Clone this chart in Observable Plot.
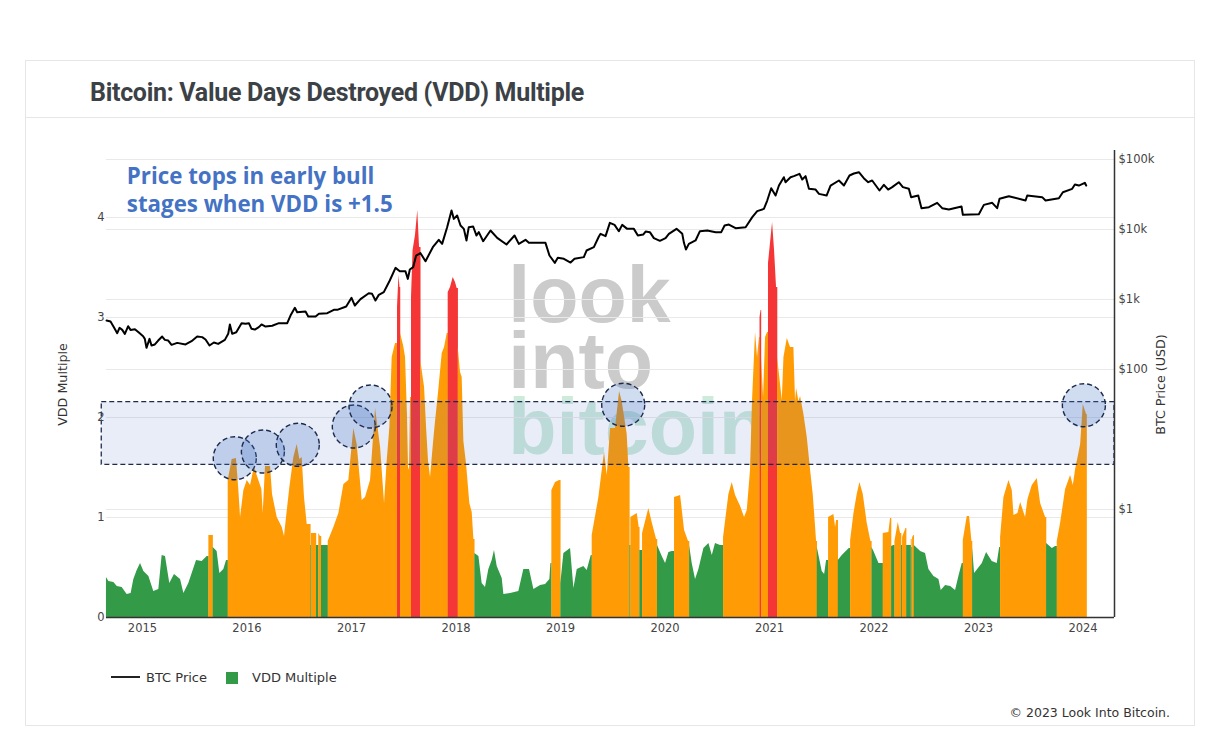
<!DOCTYPE html>
<html><head><meta charset="utf-8">
<script src="https://cdn.jsdelivr.net/npm/d3@7"></script>
<script src="https://cdn.jsdelivr.net/npm/@observablehq/plot@0.6"></script>
<style>
html,body{margin:0;padding:0;background:#fff;width:1220px;height:740px;overflow:hidden}
#card{position:absolute;left:25px;top:60px;width:1170px;height:666px;border:1px solid #e6e6e6;box-sizing:border-box}
#head{position:absolute;left:25px;top:117px;width:1170px;height:1px;background:#e6e6e6}
#title{position:absolute;left:90px;top:78px;font:700 25px Roboto,sans-serif;color:#3c4146;letter-spacing:-.3px;white-space:nowrap}
#chart{position:absolute;left:0;top:0}
#chart svg{background:transparent}
.lg{position:absolute;top:670px;font:13px "DejaVu Sans",sans-serif;color:#333;white-space:nowrap}
#copy{position:absolute;right:50px;top:705px;font:12.5px "DejaVu Sans",sans-serif;color:#333;white-space:nowrap}
</style></head><body>
<div id="card"></div><div id="head"></div>
<div id="title">Bitcoin: Value Days Destroyed (VDD) Multiple</div>
<div id="chart"></div>
<div style="position:absolute;left:111px;top:676px;width:29px;height:2px;background:#222"></div>
<div class="lg" style="left:146px">BTC Price</div>
<div style="position:absolute;left:226px;top:672px;width:12px;height:12px;background:#339a47"></div>
<div class="lg" style="left:252px">VDD Multiple</div>
<div id="copy">© 2023 Look Into Bitcoin.</div>
<script>
// VDD Multiple: [decimal year, value]
const vdd2014=[[2014.655,.40],[2014.678,.36],[2014.726,.35],[2014.758,.31],[2014.805,.30],[2014.853,.23],[2014.891,.24],[2014.917,.38],[2014.949,.47],[2014.981,.54]];
const vdd2015=[[2015.013,.46],[2015.061,.41],[2015.108,.26],[2015.156,.28],[2015.188,.62],[2015.220,.61],[2015.261,.34],[2015.306,.43],[2015.364,.38],[2015.396,.24],[2015.443,.34],[2015.517,.57],[2015.571,.56],[2015.619,.61],[2015.635,.82],[2015.676,.70],[2015.714,.66],[2015.740,.44],[2015.778,.48],[2015.804,.57],[2015.820,1.37],[2015.858,1.58],[2015.899,1.59],[2015.922,1.27],[2015.938,1.0],[2015.970,1.27]];
const vdd2016=[[2016.002,1.37],[2016.034,1.32],[2016.072,1.51],[2016.097,1.42],[2016.142,1.28],[2016.155,1.04],[2016.177,1.51],[2016.225,1.51],[2016.244,1.23],[2016.289,1.0],[2016.337,.90],[2016.359,.81],[2016.378,1.0],[2016.410,1.30],[2016.448,1.60],[2016.480,1.73],[2016.506,1.58],[2016.528,1.60],[2016.550,1.20],[2016.576,.93],[2016.611,.72],[2016.617,.84],[2016.656,.84],[2016.665,.72],[2016.687,.84],[2016.703,.81],[2016.713,.72],[2016.777,.76],[2016.831,.90],[2016.879,1.04],[2016.927,1.33],[2016.974,1.37]];
const vdd2017=[[2017.022,1.89],[2017.054,1.73],[2017.102,1.17],[2017.134,1.20],[2017.182,1.37],[2017.230,2.09],[2017.278,1.70],[2017.316,1.14],[2017.341,1.56],[2017.367,1.90],[2017.389,2.6],[2017.421,2.74],[2017.440,3.10],[2017.454,3.42],[2017.464,3.30],[2017.469,2.84],[2017.498,2.72],[2017.517,2.6],[2017.536,2.0],[2017.545,1.50],[2017.555,1.47],[2017.565,2.2],[2017.574,3.2],[2017.589,3.67],[2017.612,3.82],[2017.634,4.07],[2017.651,3.70],[2017.663,2.57],[2017.699,2.30],[2017.718,1.9],[2017.737,1.56],[2017.756,1.40],[2017.785,1.75],[2017.804,1.96],[2017.833,2.25],[2017.868,2.64],[2017.890,2.70],[2017.916,2.84],[2017.925,3.25],[2017.947,3.30],[2017.973,3.40],[2017.995,3.35]];
const vdd2018=[[2018.011,3.29],[2018.021,2.70],[2018.043,2.45],[2018.059,2.40],[2018.075,1.76],[2018.101,1.53],[2018.132,1.14],[2018.155,1.05],[2018.171,.78],[2018.180,.64],[2018.219,.61],[2018.250,.34],[2018.282,.30],[2018.314,.48],[2018.346,.57],[2018.368,.67],[2018.394,.51],[2018.442,.39],[2018.458,.23],[2018.522,.24],[2018.601,.26],[2018.649,.48],[2018.703,.48],[2018.745,.28],[2018.809,.32],[2018.857,.33],[2018.898,.38],[2018.908,.54],[2018.917,1.27],[2018.952,1.35],[2018.991,1.37]];
const vdd2019=[[2019.003,.34],[2019.032,.64],[2019.096,.69],[2019.128,.29],[2019.160,.48],[2019.223,.51],[2019.255,.47],[2019.294,.62],[2019.303,.82],[2019.367,1.20],[2019.399,1.47],[2019.421,1.65],[2019.447,1.42],[2019.479,1.89],[2019.526,1.89],[2019.565,2.26],[2019.590,2.16],[2019.638,1.83],[2019.654,1.5],[2019.664,.72],[2019.673,1.0],[2019.734,1.04],[2019.753,.90],[2019.759,.67],[2019.785,.84],[2019.845,1.09],[2019.877,.95],[2019.919,.78],[2019.928,.72],[2019.973,.61]];
const vdd2020=[[2020.005,.54],[2020.037,.65],[2020.069,.66],[2020.091,1.20],[2020.149,1.22],[2020.187,.87],[2020.225,.76],[2020.235,.72],[2020.260,.54],[2020.292,.38],[2020.324,.48],[2020.372,.69],[2020.420,.74],[2020.452,.62],[2020.483,.74],[2020.531,.72],[2020.560,.80],[2020.611,1.23],[2020.643,1.35],[2020.675,1.22],[2020.723,1.11],[2020.761,1.0],[2020.787,1.07],[2020.818,1.47],[2020.837,2.16],[2020.866,2.85],[2020.885,2.6],[2020.904,2.8],[2020.909,3.0],[2020.919,3.07],[2020.923,2.6],[2020.943,2.2],[2020.962,2.8],[2020.981,2.85],[2020.990,3.54]];
const vdd2021=[[2021.010,3.75],[2021.029,3.95],[2021.048,3.67],[2021.067,3.3],[2021.077,2.6],[2021.122,2.17],[2021.138,2.6],[2021.170,2.79],[2021.201,2.70],[2021.233,2.70],[2021.249,2.16],[2021.259,2.29],[2021.281,2.16],[2021.297,2.21],[2021.329,2.03],[2021.361,1.80],[2021.393,1.47],[2021.418,1.23],[2021.441,.90],[2021.450,.76],[2021.457,.70],[2021.504,.46],[2021.527,.43],[2021.546,.57],[2021.565,1.0],[2021.616,1.03],[2021.632,.90],[2021.642,.97],[2021.658,.57],[2021.696,.62],[2021.744,.67],[2021.763,.69],[2021.776,.77],[2021.808,1.04],[2021.839,1.23],[2021.865,1.35],[2021.897,1.23],[2021.935,.94],[2021.970,.76],[2021.980,.70],[2021.999,.66]];
const vdd2022=[[2022.047,.54],[2022.088,.84],[2022.142,.85],[2022.158,.99],[2022.168,.71],[2022.190,.72],[2022.200,.76],[2022.232,.95],[2022.254,.84],[2022.264,.72],[2022.273,.80],[2022.305,.89],[2022.312,.72],[2022.356,.78],[2022.363,.70],[2022.369,.80],[2022.382,.82],[2022.385,.72],[2022.446,.66],[2022.493,.64],[2022.525,.48],[2022.573,.41],[2022.621,.38],[2022.643,.27],[2022.685,.32],[2022.733,.31],[2022.780,.27],[2022.812,.41],[2022.844,.54],[2022.854,.77],[2022.892,1.01],[2022.914,1.01],[2022.937,.76],[2022.943,.70],[2022.962,.44]];
const vdd2023=[[2023.036,.54],[2023.077,.65],[2023.131,.56],[2023.179,.54],[2023.202,.70],[2023.211,.80],[2023.243,1.20],[2023.291,1.37],[2023.323,1.27],[2023.339,1.02],[2023.377,1.04],[2023.403,1.15],[2023.450,1.0],[2023.473,1.18],[2023.514,1.32],[2023.562,1.39],[2023.594,1.14],[2023.642,1.0],[2023.651,.74],[2023.706,.69],[2023.737,.71],[2023.753,.76],[2023.785,.94],[2023.833,1.28],[2023.881,1.42],[2023.907,1.32],[2023.929,1.48],[2023.977,1.73]];
const vdd2024=[[2024.002,2.13],[2024.034,2.03]];
const vddEnd=2024.041;

// BTC price in USD: [decimal year, price]
const price2014=[[2014.656,501],[2014.694,484],[2014.726,402],[2014.758,330],[2014.780,394],[2014.806,368],[2014.831,323],[2014.863,416],[2014.885,368],[2014.927,377],[2014.965,337]];
const price2015=[[2015.006,299],[2015.022,274],[2015.038,204],[2015.067,274],[2015.086,220],[2015.118,228],[2015.150,259],[2015.188,296],[2015.214,265],[2015.246,259],[2015.278,225],[2015.332,240],[2015.412,228],[2015.469,254],[2015.523,296],[2015.571,290],[2015.603,268],[2015.641,220],[2015.683,243],[2015.724,232],[2015.788,265],[2015.820,323],[2015.836,440],[2015.858,323],[2015.897,341],[2015.948,459],[2015.986,449]];
const price2016=[[2016.018,459],[2016.043,381],[2016.075,372],[2016.113,403],[2016.139,440],[2016.177,411],[2016.241,421],[2016.305,459],[2016.385,459],[2016.416,590],[2016.458,760],[2016.480,659],[2016.560,673],[2016.586,571],[2016.656,571],[2016.688,624],[2016.768,637],[2016.831,711],[2016.863,711],[2016.949,794]];
const price2017=[[2017.000,1057],[2017.032,820],[2017.086,1012],[2017.165,1230],[2017.197,1205],[2017.229,968],[2017.261,1164],[2017.309,1274],[2017.366,1866],[2017.421,2831],[2017.462,2535],[2017.516,2535],[2017.539,1972],[2017.558,2679],[2017.590,2896],[2017.618,4249],[2017.660,4592],[2017.708,3524],[2017.778,5585],[2017.835,7112],[2017.867,6237],[2017.915,10790],[2017.957,18660],[2017.979,14190]];
const price2018=[[2018.011,15850],[2018.043,11400],[2018.075,10210],[2018.100,6970],[2018.122,10790],[2018.164,11040],[2018.196,8200],[2018.218,9160],[2018.260,6800],[2018.330,9680],[2018.394,7600],[2018.483,6110],[2018.560,8200],[2018.601,6240],[2018.665,7110],[2018.697,6450],[2018.856,6450],[2018.894,4250],[2018.946,3340],[2018.974,3935]];
const price2019=[[2019.032,3810],[2019.096,3370],[2019.134,3810],[2019.223,4030],[2019.249,5010],[2019.319,5590],[2019.367,7950],[2019.383,8670],[2019.431,8030],[2019.472,12450],[2019.517,11640],[2019.558,9460],[2019.590,11640],[2019.638,10210],[2019.702,10210],[2019.740,8200],[2019.791,8470],[2019.814,9360],[2019.855,9160],[2019.893,7520],[2019.951,6890]];
const price2020=[[2020.005,7520],[2020.037,8670],[2020.110,10210],[2020.165,8670],[2020.181,6450],[2020.200,5180],[2020.228,6240],[2020.292,6970],[2020.334,9460],[2020.404,9670],[2020.484,9160],[2020.538,9160],[2020.570,11400],[2020.611,11780],[2020.675,10450],[2020.771,10790],[2020.835,15000],[2020.882,18280],[2020.946,19720],[2020.978,25940]];
const price2021=[[2021.016,38900],[2021.058,30550],[2021.090,42460],[2021.137,55850],[2021.153,47400],[2021.201,55850],[2021.233,57800],[2021.287,62370],[2021.313,51760],[2021.345,57800],[2021.377,38100],[2021.441,37240],[2021.473,32300],[2021.546,30550],[2021.584,42460],[2021.664,50120],[2021.712,42460],[2021.765,59020],[2021.807,63100],[2021.855,65920],[2021.902,54100],[2021.944,47400],[2021.982,50100]];
const price2022=[[2022.052,36060],[2022.094,43450],[2022.135,37240],[2022.174,40270],[2022.237,47400],[2022.276,40270],[2022.333,38100],[2022.355,28970],[2022.423,30550],[2022.454,20180],[2022.525,20830],[2022.604,24030],[2022.652,20180],[2022.716,19280],[2022.837,21300],[2022.850,16180]];
const price2023=[[2023.003,16550],[2023.051,22490],[2023.131,24030],[2023.178,20180],[2023.201,27420],[2023.290,29920],[2023.450,25940],[2023.466,30550],[2023.609,28970],[2023.641,25940],[2023.769,27990],[2023.807,34120],[2023.896,38100],[2023.922,43950],[2023.960,42460]];
const price2024=[[2024.017,46450],[2024.030,42460]];

// Reference zone and highlighted tops
const zoneLow=1.527, zoneHigh=2.153;
const tops=[[2015.883,1.593],[2016.152,1.66],[2016.486,1.727],[2017.022,1.91],[2017.182,2.11],[2019.600,2.127],[2024.008,2.123]];

const yTicks=[0,1,2,3,4];
const xTicks=[2015,2016,2017,2018,2019,2020,2021,2022,2023,2024];
const priceTicks=[1,100,1000,10000,100000];
const priceLabels=["$1","$100","$1k","$10k","$100k"];
const annotationLines=["Price tops in early bull","stages when VDD is +1.5"];
const watermark="look\ninto\nbitcoin";

const GREEN="#339a47",ORANGE="#ff9b05",RED="#f43636",NAVY="#1c2b4d";
const toVdd=p=>1.08+0.7*Math.log10(p);   // second axis: price decades mapped onto the VDD scale
const zoneColor=v=>v<0.75?GREEN:v<2.9?ORANGE:RED;

const vddPts=[...vdd2014,...vdd2015,...vdd2016,...vdd2017,...vdd2018,...vdd2019,...vdd2020,...vdd2021,...vdd2022,...vdd2023,...vdd2024];
// contiguous runs of one colour become one area; each run is closed where the next begins
const runs=[];
let seg=0;
vddPts.forEach(([t,v],i)=>{
  const col=zoneColor(v);
  if(i&&zoneColor(vddPts[i-1][1])!==col){
    runs.push({t:t+0.002,v:vddPts[i-1][1],seg,col:zoneColor(vddPts[i-1][1])});
    seg++;
  }
  runs.push({t,v,seg,col});
});
runs.push({t:vddEnd,v:vddPts[vddPts.length-1][1],seg,col:zoneColor(vddPts[vddPts.length-1][1])});

const pricePts=[...price2014,...price2015,...price2016,...price2017,...price2018,...price2019,...price2020,...price2021,...price2022,...price2023,...price2024].map(([t,p])=>({t,y:toVdd(p)}));

const x0=2014.598,x1=2024.301,xStart=2014.655,yMax=4.67;
const chart=Plot.plot({
  width:1220,height:740,marginLeft:100,marginRight:106,marginTop:150,marginBottom:123,
  x:{domain:[x0,x1]},
  y:{domain:[0,yMax]},
  color:{type:"identity"},
  style:{background:"transparent",overflow:"visible"},
  marks:[
    Plot.text([watermark],{x:2018.50,y:1.64,text:d=>d,className:"wm",fill:"#cbcbcb",textAnchor:"start",lineAnchor:"bottom",lineHeight:0.83,fontSize:79,fontWeight:700,fontFamily:"Liberation Sans"}),
    Plot.ruleY(yTicks.slice(1),{x1:xStart,x2:x1,stroke:"#e9e9e9",strokeWidth:1}),
    Plot.ruleY(priceTicks.map(toVdd),{x1:xStart,x2:x1,stroke:"#e9e9e9",strokeWidth:1}),
    Plot.areaY(runs,{x:"t",y1:0,y2:"v",z:"seg",fill:"col"}),
    Plot.rect([0],{x1:x0+0.012,x2:x1,y1:zoneLow,y2:zoneHigh,fill:"#4472c4",fillOpacity:.125,stroke:NAVY,strokeWidth:1.3,strokeDasharray:"5 3"}),
    Plot.dot(tops,{x:d=>d[0],y:d=>d[1],r:21.5,fill:"#4472c4",fillOpacity:.25,stroke:NAVY,strokeWidth:1.4,strokeDasharray:"5 3"}),
    Plot.line(pricePts,{x:"t",y:"y",stroke:"#000",strokeWidth:2}),
    Plot.ruleY([0],{x1:xStart,x2:x1,stroke:"#333",strokeWidth:1.5}),
    Plot.ruleX([x1],{y1:0,y2:yMax,stroke:"#333",strokeWidth:1.5}),
    Plot.axisX({ticks:xTicks,tickFormat:d=>String(d),tickSize:0,tickPadding:6,fontSize:11.5,fontFamily:"DejaVu Sans",fill:"#444",label:null}),
    Plot.axisY({anchor:"left",ticks:yTicks,tickFormat:d=>String(d),tickSize:0,tickPadding:-4,fontSize:11.5,fontFamily:"DejaVu Sans",fill:"#444",label:null}),
    Plot.axisY(priceTicks.map(toVdd),{anchor:"right",tickFormat:(d,i)=>priceLabels[i],tickSize:0,tickPadding:4,fontSize:11.5,fontFamily:"DejaVu Sans",fill:"#444",label:null}),
    Plot.text(annotationLines,{x:2014.85,y:(d,i)=>4.41-i*0.285,text:d=>d,textAnchor:"start",fontSize:22.3,fontWeight:700,fontFamily:"Open Sans",fill:"#4472c4"}),
    Plot.text(["VDD Multiple"],{x:x0-0.357,y:2.33,text:d=>d,rotate:-90,fontSize:12.7,fontFamily:"DejaVu Sans",fill:"#333"}),
    Plot.text(["BTC Price (USD)"],{x:x1+0.44,y:2.33,text:d=>d,rotate:-90,fontSize:12.7,fontFamily:"DejaVu Sans",fill:"#333"})
  ]
});
const wmLines=chart.querySelectorAll(".wm tspan");
if(wmLines.length) wmLines[wmLines.length-1].setAttribute("fill","#cdeadb");
document.getElementById("chart").append(chart);
</script>
</body></html>
